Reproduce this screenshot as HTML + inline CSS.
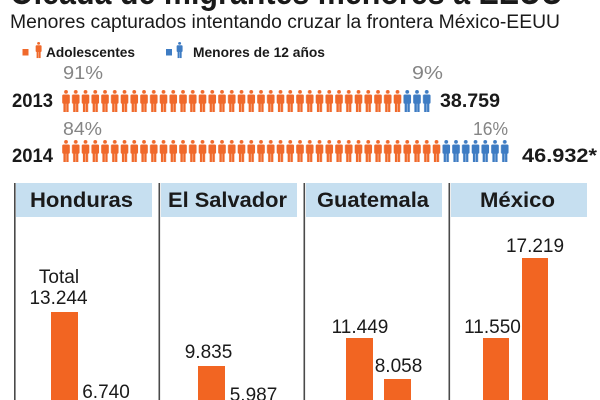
<!DOCTYPE html>
<html>
<head>
<meta charset="utf-8">
<style>
  html,body{margin:0;padding:0;background:#fff;}
  svg{display:block;}
  text{font-family:"Liberation Sans", Arial, sans-serif;}
</style>
</head>
<body>
<svg width="600" height="400" viewBox="0 0 600 400" xmlns="http://www.w3.org/2000/svg">
  <defs>
    <pattern id="po" patternUnits="userSpaceOnUse" x="62" y="90" width="9.75" height="50">
      <circle cx="4" cy="1.9" r="1.9" fill="#F0692B"/>
      <rect x="0.2" y="4.5" width="7.6" height="9.2" rx="1.3" fill="#F0692B"/>
      <rect x="1.4" y="12.5" width="2.4" height="9.5" fill="#F0692B"/>
      <rect x="4.2" y="12.5" width="2.4" height="9.5" fill="#F0692B"/>
    </pattern>
    <pattern id="pb" patternUnits="userSpaceOnUse" x="62" y="90" width="9.75" height="50">
      <circle cx="4" cy="1.9" r="1.9" fill="#3E7CC3"/>
      <rect x="0.2" y="4.5" width="7.6" height="9.2" rx="1.3" fill="#3E7CC3"/>
      <rect x="1.4" y="12.5" width="2.4" height="9.5" fill="#3E7CC3"/>
      <rect x="4.2" y="12.5" width="2.4" height="9.5" fill="#3E7CC3"/>
    </pattern>
  </defs>

  <!-- Title (cut off at top) -->
  <text x="10" y="4" font-size="34" font-weight="bold" fill="#1a1a1a" textLength="553" lengthAdjust="spacingAndGlyphs">Oleada de migrantes menores a EEUU</text>
  <!-- Subtitle -->
  <text x="10" y="28" font-size="19" fill="#1a1a1a" textLength="550" lengthAdjust="spacingAndGlyphs">Menores capturados intentando cruzar la frontera México-EEUU</text>

  <!-- Legend -->
  <rect x="22.5" y="49" width="6" height="6.5" fill="#F0692B"/>
  <g transform="translate(35.5,42) scale(0.78,0.73)">
    <circle cx="4" cy="1.9" r="1.9" fill="#F0692B"/>
    <rect x="0.2" y="4.5" width="7.6" height="9.2" rx="1.3" fill="#F0692B"/>
    <rect x="1.4" y="12.5" width="2.4" height="9.5" fill="#F0692B"/>
    <rect x="4.2" y="12.5" width="2.4" height="9.5" fill="#F0692B"/>
  </g>
  <text x="46" y="57" font-size="13.5" font-weight="bold" fill="#1a1a1a" textLength="89" lengthAdjust="spacingAndGlyphs">Adolescentes</text>
  <rect x="166" y="49" width="6" height="6.5" fill="#3E7CC3"/>
  <g transform="translate(176.5,42) scale(0.78,0.73)">
    <circle cx="4" cy="1.9" r="1.9" fill="#3E7CC3"/>
    <rect x="0.2" y="4.5" width="7.6" height="9.2" rx="1.3" fill="#3E7CC3"/>
    <rect x="1.4" y="12.5" width="2.4" height="9.5" fill="#3E7CC3"/>
    <rect x="4.2" y="12.5" width="2.4" height="9.5" fill="#3E7CC3"/>
  </g>
  <text x="193" y="57" font-size="13.5" font-weight="bold" fill="#1a1a1a" textLength="132" lengthAdjust="spacingAndGlyphs">Menores de 12 años</text>

  <!-- 2013 row -->
  <text x="63" y="79" font-size="18" fill="#858585" textLength="40" lengthAdjust="spacingAndGlyphs">91%</text>
  <text x="412" y="79" font-size="18" fill="#858585" textLength="31" lengthAdjust="spacingAndGlyphs">9%</text>
  <text x="12" y="107" font-size="19" font-weight="bold" fill="#1a1a1a" textLength="41" lengthAdjust="spacingAndGlyphs">2013</text>
  <rect x="62" y="90" width="341.25" height="22" fill="url(#po)"/>
  <rect x="403.25" y="90" width="29.25" height="22" fill="url(#pb)"/>
  <text x="440" y="107" font-size="19" font-weight="bold" fill="#1a1a1a" textLength="60" lengthAdjust="spacingAndGlyphs">38.759</text>

  <!-- 2014 row -->
  <text x="63" y="135" font-size="18" fill="#858585" textLength="39" lengthAdjust="spacingAndGlyphs">84%</text>
  <text x="473" y="135" font-size="18" fill="#858585" textLength="35" lengthAdjust="spacingAndGlyphs">16%</text>
  <text x="12" y="162" font-size="19" font-weight="bold" fill="#1a1a1a" textLength="41" lengthAdjust="spacingAndGlyphs">2014</text>
  <rect x="62" y="140" width="380.25" height="22" fill="url(#po)"/>
  <rect x="442.25" y="140" width="68.25" height="22" fill="url(#pb)"/>
  <text x="522" y="162" font-size="19" font-weight="bold" fill="#1a1a1a" textLength="75" lengthAdjust="spacingAndGlyphs">46.932*</text>

  <!-- Panel separators -->
  <rect x="14" y="183" width="1.6" height="217" fill="#4a4a4a"/>
  <rect x="158.5" y="183" width="1.6" height="217" fill="#4a4a4a"/>
  <rect x="303.5" y="183" width="1.6" height="217" fill="#4a4a4a"/>
  <rect x="448.5" y="183" width="1.6" height="217" fill="#4a4a4a"/>

  <!-- Headers -->
  <rect x="16" y="183" width="136" height="34" fill="#C6DFF0"/>
  <rect x="161" y="183" width="136" height="34" fill="#C6DFF0"/>
  <rect x="306" y="183" width="136" height="34" fill="#C6DFF0"/>
  <rect x="451" y="183" width="136" height="34" fill="#C6DFF0"/>
  <text x="30" y="207" font-size="21" font-weight="bold" fill="#1a1a1a" textLength="103" lengthAdjust="spacingAndGlyphs">Honduras</text>
  <text x="168" y="207" font-size="21" font-weight="bold" fill="#1a1a1a" textLength="119" lengthAdjust="spacingAndGlyphs">El Salvador</text>
  <text x="317" y="207" font-size="21" font-weight="bold" fill="#1a1a1a" textLength="112" lengthAdjust="spacingAndGlyphs">Guatemala</text>
  <text x="480" y="207" font-size="21" font-weight="bold" fill="#1a1a1a" textLength="75" lengthAdjust="spacingAndGlyphs">México</text>

  <!-- Bars -->
  <rect x="51" y="312" width="27" height="100" fill="#F26522"/>
  <rect x="91" y="405" width="27" height="10" fill="#F26522"/>
  <rect x="198" y="366" width="27" height="50" fill="#F26522"/>
  <rect x="346" y="338" width="27" height="70" fill="#F26522"/>
  <rect x="384" y="379" width="27" height="30" fill="#F26522"/>
  <rect x="483" y="338" width="26" height="70" fill="#F26522"/>
  <rect x="522" y="258" width="26" height="150" fill="#F26522"/>

  <!-- Bar labels -->
  <g font-size="19" fill="#1a1a1a" text-anchor="middle">
    <text x="59" y="283">Total</text>
    <text x="58.5" y="304">13.244</text>
    <text x="106" y="398">6.740</text>
    <text x="208.5" y="358">9.835</text>
    <text x="253.5" y="401">5.987</text>
    <text x="360" y="333">11.449</text>
    <text x="398.5" y="372">8.058</text>
    <text x="492.5" y="333">11.550</text>
    <text x="535" y="252">17.219</text>
  </g>
</svg>
</body>
</html>
